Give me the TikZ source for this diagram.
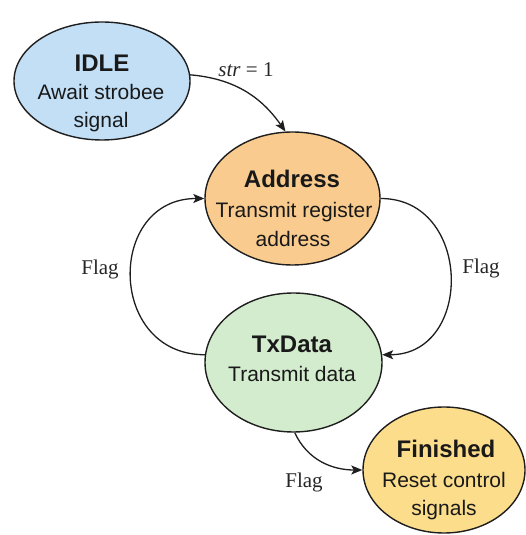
\documentclass[tikz,border=0pt]{standalone}
\usepackage{fontspec}
\setmainfont{Liberation Serif}
\newfontfamily\sansf{Liberation Sans}
\usetikzlibrary{shapes.geometric,arrows.meta}
\definecolor{cidle}{HTML}{C2DFF6}
\definecolor{caddr}{HTML}{F9CB8E}
\definecolor{ctx}{HTML}{D3ECCD}
\definecolor{cfin}{HTML}{FBDD8C}
\definecolor{cline}{HTML}{1E1E1E}
\tikzset{
  state/.style={ellipse, draw=cline, line width=1.4pt, inner sep=0pt},
  ttl/.style={anchor=base, font=\sansf\bfseries\fontsize{24}{28}\selectfont, text=black!90},
  sub/.style={anchor=base, font=\sansf\fontsize{21}{25}\selectfont, text=black!90},
  lbl/.style={anchor=base, font=\fontsize{21}{25}\selectfont, text=black!85},
  arr/.style={-{Stealth[length=11pt,width=9pt,inset=2.5pt]}, line width=1.3pt, draw=cline}
}
\begin{document}
\begin{tikzpicture}[x=1pt,y=1pt]
\useasboundingbox (0,0) rectangle (526,535);
% states
\node[state, fill=cidle, minimum width=176pt, minimum height=118pt] (idle) at (102,454) {};
\node[state, fill=caddr, minimum width=175pt, minimum height=133pt] (ad) at (292.5,336.5) {};
\node[state, fill=ctx, minimum width=177pt, minimum height=139pt] (tx) at (293.5,172.5) {};
\node[state, fill=cfin, minimum width=162pt, minimum height=126pt] (fin) at (444,65) {};
% texts
\node[ttl] (idle1) at (102,463) {IDLE};
\node[sub] (idle2) at (101,435) {Await strobee};
\node[sub] (idle3) at (101,407) {signal};
\node[ttl] (ad1) at (292,347) {Address};
\node[sub] (ad2) at (294,317) {Transmit register};
\node[sub] (ad3) at (293,288) {address};
\node[ttl] (tx1) at (292,182) {TxData};
\node[sub] (tx2) at (292,153) {Transmit data};
\node[ttl] (fin1) at (446,77) {Finished};
\node[sub] (fin2) at (444,47) {Reset control};
\node[sub] (fin3) at (444,19) {signals};
% transitions
\draw[arr] (idle.4) to[out=-5, in=125] (ad.96);
\draw[arr] (tx.175) to[out=180, in=180, looseness=1.6] (ad.west);
\draw[arr] (ad.east) to[out=0, in=0, looseness=1.5] (tx.5);
\draw[arr] (tx.271) to[out=-65, in=180] (fin.west);
% labels
\node[lbl] (l0) at (246,458) {\textit{str} = 1};
\node[lbl] (l1) at (100,260) {Flag};
\node[lbl] (l2) at (481,261) {Flag};
\node[lbl] (l3) at (304,47) {Flag};
\end{tikzpicture}
\end{document}
